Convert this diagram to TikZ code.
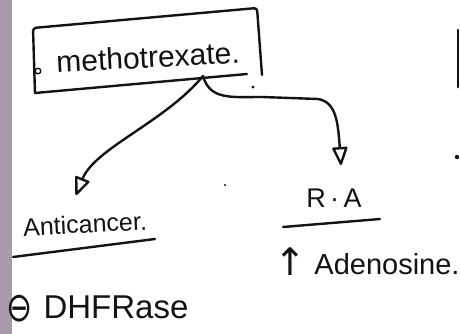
\documentclass[tikz,border=0pt]{standalone}
\usepackage{fontspec}
\setmainfont{Liberation Sans}
\newfontfamily\symfont{DejaVu Sans}
\usetikzlibrary{arrows.meta}
\definecolor{inkc}{RGB}{20,18,22}
\definecolor{barc}{RGB}{168,154,172}
\newcommand{\fsz}[1]{\fontsize{#1}{#1}\selectfont}
\begin{document}
\begin{tikzpicture}[x=1pt,y=-1pt,
  ink/.style={draw=inkc, line width=2.4pt, line cap=round, line join=round},
  label/.style={inner sep=0pt, text=inkc},
  head/.style={-{Triangle[open,round,length=20pt,width=16pt]}}]
\useasboundingbox (0,0) rectangle (460,334);
\fill[white] (0,0) rectangle (460,334);
% grey page edge on the left
\fill[barc] (0,0) rectangle (12,334);

% title box
\node[label, rotate=3, font=\fsz{30}] (drug) at (148,57) {methotrexate.};
\draw[ink, rounded corners=3pt] (35,93) -- (33,28) -- (257,8) -- (262,75);
\draw[ink] (35,93) -- (247,74);
\draw[ink, line width=1.4pt] (38,71) circle (2.8);
\coordinate (src) at (203,76);

% branch labels
\node[label, rotate=3, font=\fsz{25}] (anti) at (85,224) {Anticancer.};
\node[label, font=\fsz{27}] (ra) at (334,198) {R\,·\,A};
\node[label, font=\fsz{29}] (aden) at (387,264) {Adenosine.};
\node[label, font=\symfont\fsz{38}] (up) at (290,262) {↑};
\node[label, font=\fsz{33}] (dhfr) at (116,307) {DHFRase};
\node[label, font=\symfont\fsz{24}] (minus) at (20,309) {\scalebox{1.3}[1.7]{⊖}};

\coordinate (antitip) at (76,195);
\coordinate (ratip) at (341,165);

% connectors from the box
\draw[ink, head] (src) .. controls (165,122) and (95,148) .. (antitip);
\draw[ink, head] (src) .. controls (210,100) and (230,97) .. (262,97)
  -- (318,99) .. controls (336,102) and (338,122) .. (ratip);

% underlines
\draw[ink] (13,257) -- (155,239);
\draw[ink] (283,227) -- (380,219);

% stray marks
\fill[inkc] (253,87) circle (1.6);
\fill[inkc] (225,185) circle (1.2);
\draw[ink, line width=2.8pt] (458,30) -- (458,87);
\fill[inkc] (457,157) circle (2.2);
\end{tikzpicture}
\end{document}
